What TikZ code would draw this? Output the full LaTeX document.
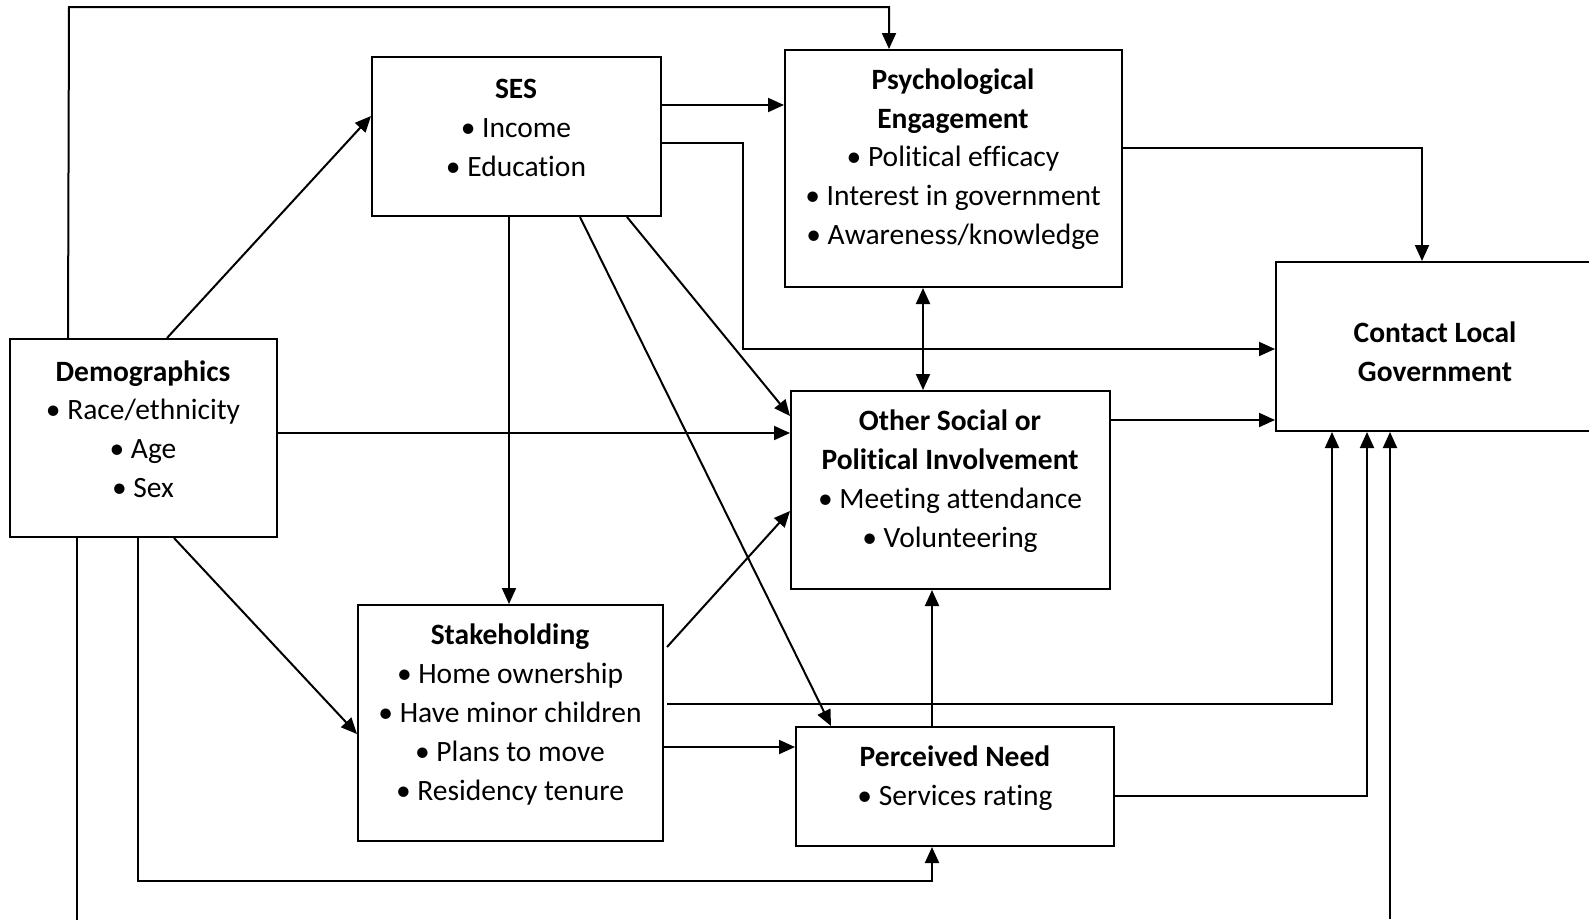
\documentclass[tikz,border=0pt]{standalone}
\usepackage{fontspec}
\setmainfont{Carlito}[Ligatures={NoCommon}]
\usetikzlibrary{arrows.meta,calc}
\begin{document}
\begin{tikzpicture}[x=1pt,y=-1pt,line width=2pt,
  box/.style={draw,line width=2pt,inner sep=0pt},
  txt/.style={align=center,font=\fontsize{29.5}{38.8}\selectfont,inner sep=0pt},
  arr/.style={-{Triangle[length=16pt,width=14pt]},line width=2pt},
  darr/.style={{Triangle[length=16pt,width=14pt]}-{Triangle[length=16pt,width=14pt]},line width=2pt}]
\useasboundingbox (0,0) rectangle (1589,919);
% boxes
\node[box,minimum width=267pt,minimum height=198pt] (dem) at (143.5,438) {};
\node[box,minimum width=289pt,minimum height=159pt] (ses) at (516.5,136.5) {};
\node[box,minimum width=337pt,minimum height=237pt] (psy) at (953.5,168.5) {};
\node[box,minimum width=324pt,minimum height=169pt] (con) at (1438,346.5) {};
\node[box,minimum width=319pt,minimum height=198pt] (oth) at (950.5,490) {};
\node[box,minimum width=305pt,minimum height=236pt] (stk) at (510.5,723) {};
\node[box,minimum width=318pt,minimum height=119pt] (per) at (955,786.5) {};
% texts
\node[txt] (demt) at (143,429) {\textbf{Demographics}\\• Race/ethnicity\\• Age\\• Sex};
\node[txt] (sest) at (516,128) {\textbf{SES}\\• Income\\• Education};
\node[txt] (psyt) at (953,159) {\textbf{Psychological}\\\textbf{Engagement}\\• Political efficacy\\• Interest in government\\• Awareness/knowledge};
\node[txt] (cont) at (1435,352) {\textbf{Contact Local}\\\textbf{Government}};
\node[txt] (otht) at (950,481) {\textbf{Other Social or}\\\textbf{Political Involvement}\\• Meeting attendance\\• Volunteering};
\node[txt] (stkt) at (510,714.5) {\textbf{Stakeholding}\\• Home ownership\\• Have minor children\\• Plans to move\\• Residency tenure};
\node[txt] (pert) at (955,778) {\textbf{Perceived Need}\\• Services rating};
% helper coordinates
\coordinate (t1) at (69,7);
\coordinate (t2) at (889,7);
\coordinate (p6) at (932,881);
\coordinate (b7) at (1390,919);
\coordinate (c9) at (743,349);
\coordinate (x509) at (509,0);
\coordinate (x923) at (923,0);
\coordinate (x932) at (932,0);
% connectors
\draw[arr] ($(dem.north west)+(59,0)$) -- (t1) -- (t2) -- (t2 |- psy.north);
\draw[arr] ($(dem.north west)+(158,0)$) -- ($(ses.north west)+(0,60)$);
\draw[arr] ($(dem.north east)+(0,95)$) coordinate (d3) -- (d3 -| oth.west);
\draw[arr] ($(dem.south west)+(165,0)$) -- ($(stk.north west)+(0,130)$);
\draw ($(dem.south west)+(68,0)$) -- ($(dem.south west)+(68,382)$);
\draw[arr] ($(dem.south west)+(129,0)$) |- (p6) -- (p6 |- per.south);
\draw[arr] (b7) -- (b7 |- con.south);
\draw[arr] ($(ses.north east)+(0,49)$) coordinate (s8) -- (s8 -| psy.west);
\draw[arr] ($(ses.north east)+(0,87)$) -| (c9) -- (c9 -| con.west);
\draw[arr] (ses.south -| x509) -- (stk.north -| x509);
\draw[arr] ($(ses.south west)+(209,0)$) -- ($(per.north west)+(36,0)$);
\draw[arr] ($(ses.south west)+(256,0)$) -- ($(oth.north west)+(0,26)$);
\draw[arr] ($(psy.north east)+(0,99)$) -| ($(con.north west)+(147,0)$);
\draw[darr] (psy.south -| x923) -- (oth.north -| x923);
\draw[arr] ($(oth.north east)+(0,30)$) coordinate (o15) -- (o15 -| con.west);
\draw[arr] ($(stk.north east)+(3,43)$) -- ($(oth.north west)+(0,121)$);
\draw[arr] ($(stk.north east)+(3,100)$) -| ($(con.south west)+(57,0)$);
\draw[arr] ($(stk.north east)+(0,143)$) coordinate (s18) -- (s18 -| per.west);
\draw[arr] (per.north -| x932) -- (oth.south -| x932);
\draw[arr] ($(per.north east)+(0,70)$) -| ($(con.south west)+(92,0)$);
\end{tikzpicture}
\end{document}
